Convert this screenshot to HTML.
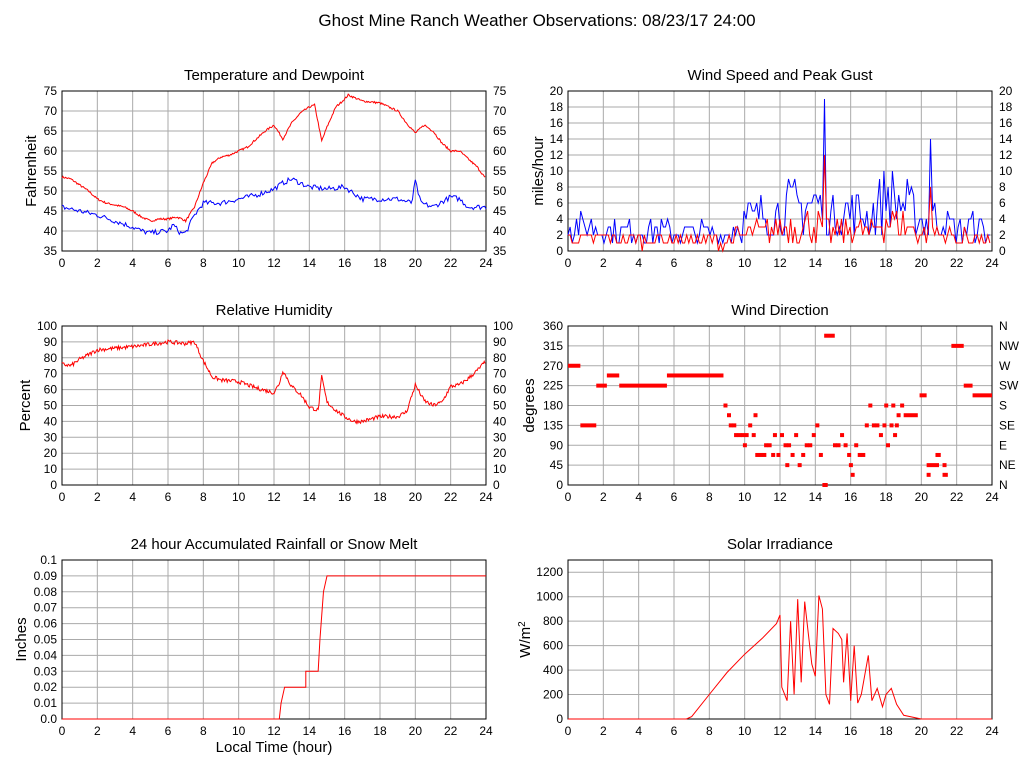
<!DOCTYPE html><html><head><meta charset="utf-8"><style>body{margin:0;background:#fff}svg{font-family:"Liberation Sans",sans-serif}</style></head><body>
<svg id="s" width="1027" height="772" xmlns="http://www.w3.org/2000/svg"></svg>
<script>
const S=document.getElementById('s');let h='';
h+='<rect width="1027" height="772" fill="#fff"/>';
h+='<text x="537" y="26" font-size="17" text-anchor="middle">Ghost Mine Ranch Weather Observations: 08/23/17 24:00</text>';
let seed=7;function rnd(){seed=(seed*16807)%2147483647;return seed/2147483647;}
function panel(o){const {x0,x1,y0,y1,vmin,vmax,yt,title,ylab}=o;
 h+=`<text x="${(x0+x1)/2}" y="${y0-11}" font-size="15" text-anchor="middle">${title}</text>`;
 for(let i=0;i<=12;i++){let x=x0+(x1-x0)*i/12;h+=`<line x1="${x}" y1="${y0}" x2="${x}" y2="${y1}" stroke="#aaa"/>`;h+=`<text x="${x}" y="${y1+16}" font-size="12" text-anchor="middle">${i*2}</text>`;}
 yt.forEach((v,i)=>{let y=y1-(v-vmin)/(vmax-vmin)*(y1-y0);h+=`<line x1="${x0}" y1="${y}" x2="${x1}" y2="${y}" stroke="#aaa"/>`;h+=`<text x="${x0-5}" y="${y+4}" font-size="12" text-anchor="end">${o.fmt?o.fmt(v):v}</text>`;if(o.right)h+=`<text x="${x1+7}" y="${y+4}" font-size="12">${o.right===true?v:o.right[i]}</text>`;});
 h+=`<rect x="${x0}" y="${y0}" width="${x1-x0}" height="${y1-y0}" fill="none" stroke="#000"/>`;
 h+=`<text transform="translate(${o.lx},${(y0+y1)/2}) rotate(-90)" font-size="15" text-anchor="middle">${ylab}</text>`;
 const X=t=>x0+(x1-x0)*t/24,Y=v=>y1-(v-vmin)/(vmax-vmin)*(y1-y0);return [X,Y];}
function interp(p,t){for(let i=0;i<p.length-1;i+=2){if(t<=p[i+2])return p[i+1]+(p[i+3]-p[i+1])*(t-p[i])/(p[i+2]-p[i]);}return p[p.length-1];}
function line(X,Y,p,col,noise,step){let pts=[];for(let t=0;t<=24;t+=step||0.05){pts.push(X(t).toFixed(1)+','+Y(interp(p,t)+(rnd()-0.5)*noise).toFixed(1));}h+=`<polyline points="${pts.join(' ')}" fill="none" stroke="${col}"/>`;}
let [X,Y]=panel({x0:62,x1:486,y0:91,y1:251,vmin:35,vmax:75,yt:[35,40,45,50,55,60,65,70,75],title:'Temperature and Dewpoint',ylab:'Fahrenheit',lx:36,right:true});
line(X,Y,[0,53.5,0.5,53,1,51.5,1.5,50,2,48,2.5,47,3,46.5,3.5,46,4,45,4.5,43.5,5,42.5,5.5,43,6,43,6.5,43.5,6.8,43,7,42.5,7.5,46,8,52,8.5,57,9,58.5,9.5,59,10,60,10.5,61,11,63,11.5,65,12,66.5,12.5,63,13,67,13.5,69.5,14,71,14.3,71.5,14.7,62.5,15,66,15.5,71,16,73,16.2,74,17,72.5,18,72,19,70,19.5,67,20,64.5,20.5,66.5,21,65,21.5,62,22,60,22.5,60,23,58,23.5,56,24,53],'#f00',0.5);
line(X,Y,[0,46,1,45,2,44,3,42.5,4,41,4.5,40,5,39.5,5.5,39.8,6,40,6.3,41.5,6.7,39.5,7,39.5,7.5,44,8,47,9,47,10,48,11,49,12,50.5,12.5,52,13,53,14,51,15,50.5,16,51,17,48,18,48,19,48,19.8,47,20,52.5,20.3,47,21,46,22,48.5,22.5,48,23,46,24,46],'#00f',1.3,0.08);
[X,Y]=panel({x0:568,x1:992,y0:91,y1:251,vmin:0,vmax:20,yt:[0,2,4,6,8,10,12,14,16,18,20],title:'Wind Speed and Peak Gust',ylab:'miles/hour',lx:543,right:true});
function wind(env,col,sc){let pts=[];for(let t=0;t<=24;t+=0.12){let e=interp(env,t);let v=Math.max(0,Math.round(e*sc*(0.3+rnd()*1.1)));if(Math.abs(t-14.5)<0.07)v=sc>0.7?19:12;if(Math.abs(t-20.5)<0.07)v=sc>0.7?14:8;pts.push(X(t).toFixed(1)+','+Y(v).toFixed(1));}h+=`<polyline points="${pts.join(' ')}" fill="none" stroke="${col}"/>`;}
const env=[0,3.5,3,3,6,3,9,2.5,10,4.5,12,6,13,6.5,14,7,15,5,16,6,17,5,18,8,19,7,20,4,21,5,22,3,23,4,24,2];
wind(env,'#00f',1);wind(env,'#f00',0.55);
[X,Y]=panel({x0:62,x1:486,y0:326,y1:485,vmin:0,vmax:100,yt:[0,10,20,30,40,50,60,70,80,90,100],title:'Relative Humidity',ylab:'Percent',lx:30,right:true});
line(X,Y,[0,76,0.5,75,1,79,1.5,82,2,85,3,86,4,87,5,88.5,6,90,7,89,7.5,90,8,78,8.5,68,9,66,10,65,11,61,12,58,12.3,64,12.5,72,13,62,13.5,57,14,49,14.5,47,14.7,68,15,52,15.5,47,16,43,16.5,40,17,40,18,43,19,43,19.5,46,20,63,20.5,53,21,50,21.5,52,22,62,22.5,63,23,67,23.5,72,24,78],'#f00',2.5);
[X,Y]=panel({x0:568,x1:992,y0:326,y1:485,vmin:0,vmax:360,yt:[0,45,90,135,180,225,270,315,360],title:'Wind Direction',ylab:'degrees',lx:534,right:['N','NE','E','SE','S','SW','W','NW','N']});
function seg(a,b,d){h+=`<rect x="${X(a)}" y="${Y(d)-2}" width="${Math.max(4,X(b)-X(a))}" height="4" fill="#f00"/>`;}
[[0,0.7,270],[0.7,1.6,135],[1.6,2.2,225],[2.2,2.9,248],[2.9,5.6,225],[5.6,8.8,248],[19.9,20.3,203],[20.3,21,45],[20.8,21.1,68],[21.2,21.5,23],[21.7,22.4,315],[22.4,22.9,225],[22.9,24,203],[14.4,14.7,0],[14.5,15.1,338],[19,19.8,158]].forEach(s=>seg(...s));
[[8.8,180],[9,158],[9.1,135],[9.3,135],[9.4,113],[9.6,113],[9.8,113],[9.9,90],[10,113],[10.2,135],[10.4,113],[10.5,158],[10.6,68],[10.8,68],[11,68],[11.1,90],[11.3,90],[11.5,68],[11.6,113],[11.8,68],[12,113],[12.2,90],[12.3,45],[12.4,90],[12.6,68],[12.8,113],[13,45],[13.2,68],[13.4,90],[13.6,90],[13.8,113],[14,135],[14.2,68],[15,90],[15.2,90],[15.4,113],[15.6,90],[15.8,68],[15.9,45],[16,23],[16.2,90],[16.4,68],[16.6,68],[16.8,135],[17,180],[17.2,135],[17.4,135],[17.6,113],[17.8,135],[17.9,180],[18,90],[18.2,135],[18.3,180],[18.4,113],[18.5,135],[18.6,158],[18.8,180],[20.3,23],[21.2,45]].forEach(p=>seg(p[0],p[0]+0.15,p[1]));
[X,Y]=panel({x0:62,x1:486,y0:560,y1:719,vmin:0,vmax:0.1,yt:[0,0.01,0.02,0.03,0.04,0.05,0.06,0.07,0.08,0.09,0.1],fmt:v=>v===0?'0.0':(+v.toFixed(2)).toString(),title:'24 hour Accumulated Rainfall or Snow Melt',ylab:'Inches',lx:26});
h+=`<polyline points="${[[0,0],[12.3,0],[12.4,0.01],[12.6,0.02],[13.8,0.02],[13.8,0.03],[14.5,0.03],[14.6,0.05],[14.8,0.08],[15,0.09],[24,0.09]].map(p=>X(p[0])+','+Y(p[1])).join(' ')}" fill="none" stroke="#f00"/>`;
h+='<text x="274" y="752" font-size="15" text-anchor="middle">Local Time (hour)</text>';
[X,Y]=panel({x0:568,x1:992,y0:560,y1:719,vmin:0,vmax:1300,yt:[0,200,400,600,800,1000,1200],title:'Solar Irradiance',ylab:'W/m<tspan font-size="10" dy="-5">2</tspan>',lx:530});
h+=`<polyline points="${[0,0,6.7,0,7,20,8,200,9,380,10,530,11,660,11.8,780,12,850,12.1,260,12.4,150,12.6,800,12.8,200,13,980,13.2,300,13.4,960,13.6,700,13.8,450,14,350,14.2,1010,14.4,900,14.6,200,14.8,120,15,740,15.3,700,15.5,650,15.6,300,15.8,700,16,150,16.2,600,16.4,130,16.6,200,17,520,17.2,150,17.5,250,17.8,100,18,200,18.3,250,18.6,120,19,30,20,0,24,0].reduce((a,v,i,arr)=>{if(i%2==0)a.push(X(v).toFixed(1)+','+Y(arr[i+1]).toFixed(1));return a;},[]).join(' ')}" fill="none" stroke="#f00"/>`;
S.innerHTML=h;
</script></body></html>
